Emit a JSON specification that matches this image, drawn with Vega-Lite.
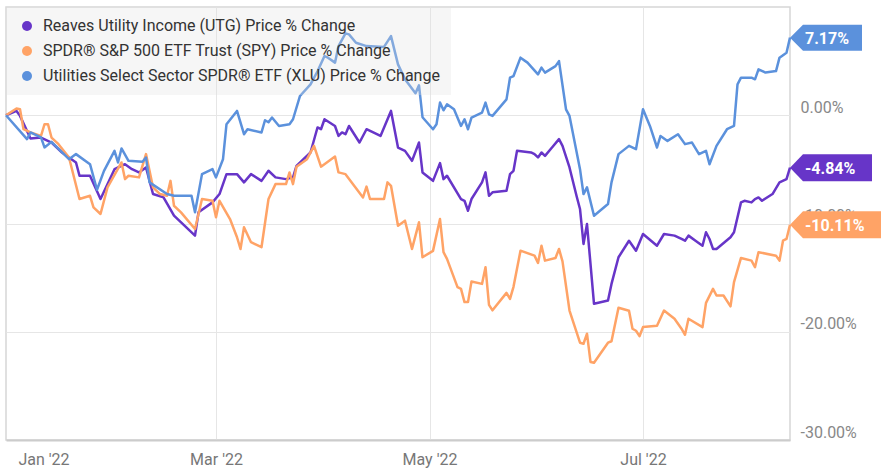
{
  "$schema": "https://vega.github.io/schema/vega-lite/v6.json",
  "width": 784,
  "height": 433,
  "autosize": {"type": "none"},
  "padding": {"left": 6, "top": 7, "right": 97, "bottom": 34},
  "background": "white",
  "config": {
    "font": "Roboto",
    "view": {"stroke": "#d6d6d6", "strokeWidth": 1.5}
  },
  "datasets": {
    "prices": [
      {"s": "UTG", "d": "2021-12-31", "v": 0},
      {"s": "UTG", "d": "2022-01-03", "v": 0.40},
      {"s": "UTG", "d": "2022-01-04", "v": -0.06},
      {"s": "UTG", "d": "2022-01-07", "v": -2.15},
      {"s": "UTG", "d": "2022-01-10", "v": -2.06},
      {"s": "UTG", "d": "2022-01-13", "v": -2.52},
      {"s": "UTG", "d": "2022-01-16", "v": -3.44},
      {"s": "UTG", "d": "2022-01-20", "v": -4.36},
      {"s": "UTG", "d": "2022-01-21", "v": -5.59},
      {"s": "UTG", "d": "2022-01-24", "v": -5.59},
      {"s": "UTG", "d": "2022-01-27", "v": -7.74},
      {"s": "UTG", "d": "2022-01-31", "v": -4.98},
      {"s": "UTG", "d": "2022-02-03", "v": -4.52},
      {"s": "UTG", "d": "2022-02-05", "v": -4.98},
      {"s": "UTG", "d": "2022-02-07", "v": -5.28},
      {"s": "UTG", "d": "2022-02-09", "v": -4.82},
      {"s": "UTG", "d": "2022-02-11", "v": -7.28},
      {"s": "UTG", "d": "2022-02-14", "v": -7.59},
      {"s": "UTG", "d": "2022-02-17", "v": -9.28},
      {"s": "UTG", "d": "2022-02-23", "v": -11.12},
      {"s": "UTG", "d": "2022-02-24", "v": -8.97},
      {"s": "UTG", "d": "2022-02-28", "v": -8.05},
      {"s": "UTG", "d": "2022-03-02", "v": -7.28},
      {"s": "UTG", "d": "2022-03-04", "v": -5.44},
      {"s": "UTG", "d": "2022-03-07", "v": -5.44},
      {"s": "UTG", "d": "2022-03-09", "v": -6.20},
      {"s": "UTG", "d": "2022-03-11", "v": -5.44},
      {"s": "UTG", "d": "2022-03-14", "v": -6.06},
      {"s": "UTG", "d": "2022-03-16", "v": -5.13},
      {"s": "UTG", "d": "2022-03-18", "v": -5.74},
      {"s": "UTG", "d": "2022-03-21", "v": -5.90},
      {"s": "UTG", "d": "2022-03-23", "v": -5.74},
      {"s": "UTG", "d": "2022-03-24", "v": -4.67},
      {"s": "UTG", "d": "2022-03-28", "v": -3.44},
      {"s": "UTG", "d": "2022-03-30", "v": -1.13},
      {"s": "UTG", "d": "2022-03-31", "v": -1.29},
      {"s": "UTG", "d": "2022-04-01", "v": -0.37},
      {"s": "UTG", "d": "2022-04-04", "v": -0.99},
      {"s": "UTG", "d": "2022-04-05", "v": -1.91},
      {"s": "UTG", "d": "2022-04-06", "v": -1.59},
      {"s": "UTG", "d": "2022-04-07", "v": -1.75},
      {"s": "UTG", "d": "2022-04-08", "v": -0.99},
      {"s": "UTG", "d": "2022-04-11", "v": -2.52},
      {"s": "UTG", "d": "2022-04-13", "v": -1.29},
      {"s": "UTG", "d": "2022-04-17", "v": -1.91},
      {"s": "UTG", "d": "2022-04-20", "v": 0.40},
      {"s": "UTG", "d": "2022-04-22", "v": -2.98},
      {"s": "UTG", "d": "2022-04-24", "v": -3.29},
      {"s": "UTG", "d": "2022-04-26", "v": -4.21},
      {"s": "UTG", "d": "2022-04-28", "v": -2.52},
      {"s": "UTG", "d": "2022-04-29", "v": -5.28},
      {"s": "UTG", "d": "2022-05-02", "v": -6.06},
      {"s": "UTG", "d": "2022-05-04", "v": -4.42},
      {"s": "UTG", "d": "2022-05-05", "v": -5.90},
      {"s": "UTG", "d": "2022-05-06", "v": -5.59},
      {"s": "UTG", "d": "2022-05-10", "v": -7.74},
      {"s": "UTG", "d": "2022-05-11", "v": -7.90},
      {"s": "UTG", "d": "2022-05-12", "v": -8.82},
      {"s": "UTG", "d": "2022-05-13", "v": -7.74},
      {"s": "UTG", "d": "2022-05-16", "v": -6.20},
      {"s": "UTG", "d": "2022-05-17", "v": -5.28},
      {"s": "UTG", "d": "2022-05-18", "v": -7.44},
      {"s": "UTG", "d": "2022-05-19", "v": -7.12},
      {"s": "UTG", "d": "2022-05-23", "v": -6.98},
      {"s": "UTG", "d": "2022-05-24", "v": -5.44},
      {"s": "UTG", "d": "2022-05-25", "v": -5.13},
      {"s": "UTG", "d": "2022-05-26", "v": -3.29},
      {"s": "UTG", "d": "2022-05-30", "v": -3.44},
      {"s": "UTG", "d": "2022-05-31", "v": -3.59},
      {"s": "UTG", "d": "2022-06-01", "v": -3.90},
      {"s": "UTG", "d": "2022-06-02", "v": -3.44},
      {"s": "UTG", "d": "2022-06-03", "v": -3.75},
      {"s": "UTG", "d": "2022-06-05", "v": -2.98},
      {"s": "UTG", "d": "2022-06-07", "v": -2.21},
      {"s": "UTG", "d": "2022-06-08", "v": -2.83},
      {"s": "UTG", "d": "2022-06-10", "v": -4.82},
      {"s": "UTG", "d": "2022-06-12", "v": -7.44},
      {"s": "UTG", "d": "2022-06-13", "v": -8.66},
      {"s": "UTG", "d": "2022-06-14", "v": -11.89},
      {"s": "UTG", "d": "2022-06-15", "v": -10.05},
      {"s": "UTG", "d": "2022-06-17", "v": -17.42},
      {"s": "UTG", "d": "2022-06-21", "v": -17.12},
      {"s": "UTG", "d": "2022-06-22", "v": -15.58},
      {"s": "UTG", "d": "2022-06-24", "v": -13.12},
      {"s": "UTG", "d": "2022-06-27", "v": -11.59},
      {"s": "UTG", "d": "2022-06-29", "v": -12.51},
      {"s": "UTG", "d": "2022-07-01", "v": -10.97},
      {"s": "UTG", "d": "2022-07-05", "v": -12.05},
      {"s": "UTG", "d": "2022-07-07", "v": -10.97},
      {"s": "UTG", "d": "2022-07-10", "v": -11.12},
      {"s": "UTG", "d": "2022-07-12", "v": -11.43},
      {"s": "UTG", "d": "2022-07-13", "v": -11.59},
      {"s": "UTG", "d": "2022-07-14", "v": -11.12},
      {"s": "UTG", "d": "2022-07-16", "v": -11.59},
      {"s": "UTG", "d": "2022-07-18", "v": -12.05},
      {"s": "UTG", "d": "2022-07-19", "v": -10.81},
      {"s": "UTG", "d": "2022-07-20", "v": -11.43},
      {"s": "UTG", "d": "2022-07-21", "v": -12.35},
      {"s": "UTG", "d": "2022-07-22", "v": -12.35},
      {"s": "UTG", "d": "2022-07-26", "v": -11.27},
      {"s": "UTG", "d": "2022-07-27", "v": -10.81},
      {"s": "UTG", "d": "2022-07-29", "v": -8.05},
      {"s": "UTG", "d": "2022-07-30", "v": -7.90},
      {"s": "UTG", "d": "2022-08-01", "v": -8.05},
      {"s": "UTG", "d": "2022-08-02", "v": -7.74},
      {"s": "UTG", "d": "2022-08-03", "v": -7.59},
      {"s": "UTG", "d": "2022-08-04", "v": -7.90},
      {"s": "UTG", "d": "2022-08-07", "v": -7.28},
      {"s": "UTG", "d": "2022-08-09", "v": -6.20},
      {"s": "UTG", "d": "2022-08-11", "v": -5.90},
      {"s": "UTG", "d": "2022-08-12", "v": -4.84},
      {"s": "SPY", "d": "2021-12-31", "v": 0},
      {"s": "SPY", "d": "2022-01-03", "v": 0.62},
      {"s": "SPY", "d": "2022-01-04", "v": 0.55},
      {"s": "SPY", "d": "2022-01-05", "v": -1.29},
      {"s": "SPY", "d": "2022-01-07", "v": -1.59},
      {"s": "SPY", "d": "2022-01-10", "v": -1.91},
      {"s": "SPY", "d": "2022-01-11", "v": -0.83},
      {"s": "SPY", "d": "2022-01-12", "v": -0.83},
      {"s": "SPY", "d": "2022-01-13", "v": -2.06},
      {"s": "SPY", "d": "2022-01-15", "v": -2.67},
      {"s": "SPY", "d": "2022-01-18", "v": -3.90},
      {"s": "SPY", "d": "2022-01-21", "v": -7.74},
      {"s": "SPY", "d": "2022-01-24", "v": -7.44},
      {"s": "SPY", "d": "2022-01-25", "v": -8.51},
      {"s": "SPY", "d": "2022-01-27", "v": -9.12},
      {"s": "SPY", "d": "2022-01-29", "v": -6.66},
      {"s": "SPY", "d": "2022-02-02", "v": -4.36},
      {"s": "SPY", "d": "2022-02-03", "v": -5.90},
      {"s": "SPY", "d": "2022-02-04", "v": -5.59},
      {"s": "SPY", "d": "2022-02-07", "v": -5.74},
      {"s": "SPY", "d": "2022-02-09", "v": -3.59},
      {"s": "SPY", "d": "2022-02-11", "v": -6.66},
      {"s": "SPY", "d": "2022-02-13", "v": -7.28},
      {"s": "SPY", "d": "2022-02-15", "v": -7.44},
      {"s": "SPY", "d": "2022-02-16", "v": -6.06},
      {"s": "SPY", "d": "2022-02-17", "v": -8.36},
      {"s": "SPY", "d": "2022-02-19", "v": -8.97},
      {"s": "SPY", "d": "2022-02-23", "v": -10.51},
      {"s": "SPY", "d": "2022-02-25", "v": -7.74},
      {"s": "SPY", "d": "2022-02-28", "v": -7.90},
      {"s": "SPY", "d": "2022-03-01", "v": -9.43},
      {"s": "SPY", "d": "2022-03-02", "v": -7.90},
      {"s": "SPY", "d": "2022-03-05", "v": -9.59},
      {"s": "SPY", "d": "2022-03-07", "v": -11.27},
      {"s": "SPY", "d": "2022-03-08", "v": -12.35},
      {"s": "SPY", "d": "2022-03-09", "v": -10.35},
      {"s": "SPY", "d": "2022-03-11", "v": -11.73},
      {"s": "SPY", "d": "2022-03-14", "v": -12.19},
      {"s": "SPY", "d": "2022-03-16", "v": -7.74},
      {"s": "SPY", "d": "2022-03-18", "v": -6.36},
      {"s": "SPY", "d": "2022-03-21", "v": -6.36},
      {"s": "SPY", "d": "2022-03-22", "v": -5.28},
      {"s": "SPY", "d": "2022-03-23", "v": -6.36},
      {"s": "SPY", "d": "2022-03-24", "v": -4.75},
      {"s": "SPY", "d": "2022-03-27", "v": -4.06},
      {"s": "SPY", "d": "2022-03-29", "v": -2.83},
      {"s": "SPY", "d": "2022-03-31", "v": -4.75},
      {"s": "SPY", "d": "2022-04-04", "v": -3.82},
      {"s": "SPY", "d": "2022-04-05", "v": -5.28},
      {"s": "SPY", "d": "2022-04-07", "v": -5.44},
      {"s": "SPY", "d": "2022-04-12", "v": -7.59},
      {"s": "SPY", "d": "2022-04-13", "v": -6.59},
      {"s": "SPY", "d": "2022-04-14", "v": -7.74},
      {"s": "SPY", "d": "2022-04-18", "v": -7.74},
      {"s": "SPY", "d": "2022-04-19", "v": -6.20},
      {"s": "SPY", "d": "2022-04-20", "v": -6.52},
      {"s": "SPY", "d": "2022-04-22", "v": -10.20},
      {"s": "SPY", "d": "2022-04-24", "v": -9.74},
      {"s": "SPY", "d": "2022-04-26", "v": -12.35},
      {"s": "SPY", "d": "2022-04-28", "v": -9.89},
      {"s": "SPY", "d": "2022-04-29", "v": -13.12},
      {"s": "SPY", "d": "2022-05-02", "v": -12.53},
      {"s": "SPY", "d": "2022-05-04", "v": -9.59},
      {"s": "SPY", "d": "2022-05-05", "v": -12.65},
      {"s": "SPY", "d": "2022-05-06", "v": -13.27},
      {"s": "SPY", "d": "2022-05-09", "v": -15.88},
      {"s": "SPY", "d": "2022-05-10", "v": -16.04},
      {"s": "SPY", "d": "2022-05-11", "v": -17.26},
      {"s": "SPY", "d": "2022-05-12", "v": -17.26},
      {"s": "SPY", "d": "2022-05-13", "v": -15.35},
      {"s": "SPY", "d": "2022-05-16", "v": -15.58},
      {"s": "SPY", "d": "2022-05-17", "v": -14.04},
      {"s": "SPY", "d": "2022-05-18", "v": -17.51},
      {"s": "SPY", "d": "2022-05-19", "v": -18.02},
      {"s": "SPY", "d": "2022-05-23", "v": -16.41},
      {"s": "SPY", "d": "2022-05-24", "v": -16.96},
      {"s": "SPY", "d": "2022-05-25", "v": -15.85},
      {"s": "SPY", "d": "2022-05-27", "v": -12.51},
      {"s": "SPY", "d": "2022-05-31", "v": -12.97},
      {"s": "SPY", "d": "2022-06-01", "v": -13.64},
      {"s": "SPY", "d": "2022-06-02", "v": -12.05},
      {"s": "SPY", "d": "2022-06-03", "v": -13.43},
      {"s": "SPY", "d": "2022-06-06", "v": -13.18},
      {"s": "SPY", "d": "2022-06-07", "v": -12.35},
      {"s": "SPY", "d": "2022-06-08", "v": -13.50},
      {"s": "SPY", "d": "2022-06-10", "v": -18.04},
      {"s": "SPY", "d": "2022-06-13", "v": -21.01},
      {"s": "SPY", "d": "2022-06-14", "v": -21.11},
      {"s": "SPY", "d": "2022-06-15", "v": -20.18},
      {"s": "SPY", "d": "2022-06-16", "v": -22.79},
      {"s": "SPY", "d": "2022-06-17", "v": -22.86},
      {"s": "SPY", "d": "2022-06-21", "v": -21.01},
      {"s": "SPY", "d": "2022-06-22", "v": -20.88},
      {"s": "SPY", "d": "2022-06-24", "v": -17.79},
      {"s": "SPY", "d": "2022-06-27", "v": -18.06},
      {"s": "SPY", "d": "2022-06-28", "v": -19.72},
      {"s": "SPY", "d": "2022-06-29", "v": -19.91},
      {"s": "SPY", "d": "2022-06-30", "v": -20.41},
      {"s": "SPY", "d": "2022-07-01", "v": -19.57},
      {"s": "SPY", "d": "2022-07-05", "v": -19.45},
      {"s": "SPY", "d": "2022-07-07", "v": -18.04},
      {"s": "SPY", "d": "2022-07-10", "v": -18.80},
      {"s": "SPY", "d": "2022-07-12", "v": -19.72},
      {"s": "SPY", "d": "2022-07-13", "v": -20.28},
      {"s": "SPY", "d": "2022-07-14", "v": -18.80},
      {"s": "SPY", "d": "2022-07-18", "v": -19.57},
      {"s": "SPY", "d": "2022-07-19", "v": -17.33},
      {"s": "SPY", "d": "2022-07-21", "v": -16.04},
      {"s": "SPY", "d": "2022-07-22", "v": -16.65},
      {"s": "SPY", "d": "2022-07-24", "v": -16.65},
      {"s": "SPY", "d": "2022-07-26", "v": -17.65},
      {"s": "SPY", "d": "2022-07-27", "v": -15.42},
      {"s": "SPY", "d": "2022-07-29", "v": -13.18},
      {"s": "SPY", "d": "2022-08-01", "v": -13.43},
      {"s": "SPY", "d": "2022-08-02", "v": -14.04},
      {"s": "SPY", "d": "2022-08-03", "v": -12.65},
      {"s": "SPY", "d": "2022-08-08", "v": -12.97},
      {"s": "SPY", "d": "2022-08-09", "v": -13.43},
      {"s": "SPY", "d": "2022-08-10", "v": -11.59},
      {"s": "SPY", "d": "2022-08-11", "v": -11.43},
      {"s": "SPY", "d": "2022-08-12", "v": -10.11},
      {"s": "XLU", "d": "2021-12-31", "v": 0},
      {"s": "XLU", "d": "2022-01-06", "v": -2.21},
      {"s": "XLU", "d": "2022-01-07", "v": -1.59},
      {"s": "XLU", "d": "2022-01-10", "v": -2.05},
      {"s": "XLU", "d": "2022-01-11", "v": -2.97},
      {"s": "XLU", "d": "2022-01-13", "v": -2.46},
      {"s": "XLU", "d": "2022-01-18", "v": -4.06},
      {"s": "XLU", "d": "2022-01-20", "v": -3.59},
      {"s": "XLU", "d": "2022-01-24", "v": -4.52},
      {"s": "XLU", "d": "2022-01-26", "v": -6.88},
      {"s": "XLU", "d": "2022-01-28", "v": -5.14},
      {"s": "XLU", "d": "2022-01-31", "v": -3.29},
      {"s": "XLU", "d": "2022-02-01", "v": -4.36},
      {"s": "XLU", "d": "2022-02-02", "v": -3.07},
      {"s": "XLU", "d": "2022-02-04", "v": -4.21},
      {"s": "XLU", "d": "2022-02-08", "v": -4.30},
      {"s": "XLU", "d": "2022-02-09", "v": -3.90},
      {"s": "XLU", "d": "2022-02-10", "v": -6.20},
      {"s": "XLU", "d": "2022-02-15", "v": -7.28},
      {"s": "XLU", "d": "2022-02-17", "v": -7.44},
      {"s": "XLU", "d": "2022-02-22", "v": -7.44},
      {"s": "XLU", "d": "2022-02-23", "v": -8.97},
      {"s": "XLU", "d": "2022-02-25", "v": -5.44},
      {"s": "XLU", "d": "2022-02-28", "v": -4.98},
      {"s": "XLU", "d": "2022-03-01", "v": -5.74},
      {"s": "XLU", "d": "2022-03-03", "v": -4.06},
      {"s": "XLU", "d": "2022-03-04", "v": -0.83},
      {"s": "XLU", "d": "2022-03-07", "v": 0.40},
      {"s": "XLU", "d": "2022-03-09", "v": -1.75},
      {"s": "XLU", "d": "2022-03-10", "v": -1.29},
      {"s": "XLU", "d": "2022-03-14", "v": -1.59},
      {"s": "XLU", "d": "2022-03-15", "v": -0.46},
      {"s": "XLU", "d": "2022-03-16", "v": -0.65},
      {"s": "XLU", "d": "2022-03-17", "v": -0.21},
      {"s": "XLU", "d": "2022-03-19", "v": -0.99},
      {"s": "XLU", "d": "2022-03-22", "v": -0.83},
      {"s": "XLU", "d": "2022-03-23", "v": -0.37},
      {"s": "XLU", "d": "2022-03-25", "v": 1.78},
      {"s": "XLU", "d": "2022-03-28", "v": 2.86},
      {"s": "XLU", "d": "2022-03-30", "v": 4.06},
      {"s": "XLU", "d": "2022-04-01", "v": 5.47},
      {"s": "XLU", "d": "2022-04-02", "v": 5.32},
      {"s": "XLU", "d": "2022-04-04", "v": 4.86},
      {"s": "XLU", "d": "2022-04-05", "v": 6.39},
      {"s": "XLU", "d": "2022-04-07", "v": 7.56},
      {"s": "XLU", "d": "2022-04-08", "v": 7.47},
      {"s": "XLU", "d": "2022-04-10", "v": 6.70},
      {"s": "XLU", "d": "2022-04-13", "v": 6.39},
      {"s": "XLU", "d": "2022-04-18", "v": 6.31},
      {"s": "XLU", "d": "2022-04-20", "v": 7.31},
      {"s": "XLU", "d": "2022-04-22", "v": 4.70},
      {"s": "XLU", "d": "2022-04-24", "v": 3.32},
      {"s": "XLU", "d": "2022-04-27", "v": 2.03},
      {"s": "XLU", "d": "2022-04-28", "v": 2.76},
      {"s": "XLU", "d": "2022-04-29", "v": -0.18},
      {"s": "XLU", "d": "2022-05-02", "v": -1.29},
      {"s": "XLU", "d": "2022-05-03", "v": -0.83},
      {"s": "XLU", "d": "2022-05-04", "v": 1.17},
      {"s": "XLU", "d": "2022-05-05", "v": 0.46},
      {"s": "XLU", "d": "2022-05-06", "v": 1.01},
      {"s": "XLU", "d": "2022-05-08", "v": 0.55},
      {"s": "XLU", "d": "2022-05-10", "v": -0.99},
      {"s": "XLU", "d": "2022-05-11", "v": -0.37},
      {"s": "XLU", "d": "2022-05-12", "v": -1.29},
      {"s": "XLU", "d": "2022-05-13", "v": -0.21},
      {"s": "XLU", "d": "2022-05-16", "v": 0.25},
      {"s": "XLU", "d": "2022-05-17", "v": 1.17},
      {"s": "XLU", "d": "2022-05-18", "v": 0.09},
      {"s": "XLU", "d": "2022-05-19", "v": -0.06},
      {"s": "XLU", "d": "2022-05-23", "v": 1.47},
      {"s": "XLU", "d": "2022-05-24", "v": 3.47},
      {"s": "XLU", "d": "2022-05-25", "v": 3.62},
      {"s": "XLU", "d": "2022-05-27", "v": 5.32},
      {"s": "XLU", "d": "2022-05-29", "v": 4.86},
      {"s": "XLU", "d": "2022-06-01", "v": 3.78},
      {"s": "XLU", "d": "2022-06-02", "v": 4.40},
      {"s": "XLU", "d": "2022-06-03", "v": 3.94},
      {"s": "XLU", "d": "2022-06-06", "v": 4.54},
      {"s": "XLU", "d": "2022-06-07", "v": 5.00},
      {"s": "XLU", "d": "2022-06-09", "v": 0.55},
      {"s": "XLU", "d": "2022-06-10", "v": -0.06},
      {"s": "XLU", "d": "2022-06-13", "v": -4.98},
      {"s": "XLU", "d": "2022-06-14", "v": -7.28},
      {"s": "XLU", "d": "2022-06-15", "v": -6.66},
      {"s": "XLU", "d": "2022-06-17", "v": -9.28},
      {"s": "XLU", "d": "2022-06-21", "v": -8.20},
      {"s": "XLU", "d": "2022-06-22", "v": -6.20},
      {"s": "XLU", "d": "2022-06-24", "v": -3.59},
      {"s": "XLU", "d": "2022-06-27", "v": -2.83},
      {"s": "XLU", "d": "2022-06-29", "v": -3.13},
      {"s": "XLU", "d": "2022-07-01", "v": 0.55},
      {"s": "XLU", "d": "2022-07-03", "v": -1.01},
      {"s": "XLU", "d": "2022-07-05", "v": -2.98},
      {"s": "XLU", "d": "2022-07-06", "v": -1.91},
      {"s": "XLU", "d": "2022-07-08", "v": -2.37},
      {"s": "XLU", "d": "2022-07-11", "v": -1.75},
      {"s": "XLU", "d": "2022-07-13", "v": -2.67},
      {"s": "XLU", "d": "2022-07-15", "v": -2.52},
      {"s": "XLU", "d": "2022-07-17", "v": -3.59},
      {"s": "XLU", "d": "2022-07-19", "v": -3.29},
      {"s": "XLU", "d": "2022-07-20", "v": -4.52},
      {"s": "XLU", "d": "2022-07-22", "v": -2.83},
      {"s": "XLU", "d": "2022-07-25", "v": -1.29},
      {"s": "XLU", "d": "2022-07-27", "v": -0.99},
      {"s": "XLU", "d": "2022-07-28", "v": 2.86},
      {"s": "XLU", "d": "2022-07-29", "v": 3.47},
      {"s": "XLU", "d": "2022-08-01", "v": 3.47},
      {"s": "XLU", "d": "2022-08-02", "v": 3.32},
      {"s": "XLU", "d": "2022-08-03", "v": 4.24},
      {"s": "XLU", "d": "2022-08-05", "v": 3.94},
      {"s": "XLU", "d": "2022-08-08", "v": 4.08},
      {"s": "XLU", "d": "2022-08-09", "v": 5.32},
      {"s": "XLU", "d": "2022-08-11", "v": 5.78},
      {"s": "XLU", "d": "2022-08-12", "v": 7.17}
    ]
  },
  "data": {"name": "prices"},
  "encoding": {
    "x": {
      "field": "d",
      "type": "temporal",
      "title": null,
      "scale": {
        "type": "utc",
        "domain": [
          {"year": 2021, "month": 12, "date": 31, "utc": true},
          {"year": 2022, "month": 8, "date": 12, "utc": true}
        ]
      },
      "axis": {
        "values": [
          {"year": 2022, "month": 1, "date": 1, "utc": true},
          {"year": 2022, "month": 3, "date": 1, "utc": true},
          {"year": 2022, "month": 5, "date": 1, "utc": true},
          {"year": 2022, "month": 7, "date": 1, "utc": true}
        ],
        "format": "%b '%y",
        "labelFontSize": 16,
        "labelColor": "#777777",
        "labelPadding": 11,
        "labelFlush": false,
        "labelOffset": {"condition": {"test": "utcmonth(datum.value) == 0", "value": 34}, "value": 0},
        "ticks": false,
        "domainColor": "#cccccc",
        "domainWidth": 2,
        "gridColor": "#e6e6e6",
        "gridOpacity": {"condition": {"test": "utcmonth(datum.value) == 0", "value": 0}, "value": 1}
      }
    },
    "y": {
      "field": "v",
      "type": "quantitative",
      "title": null,
      "scale": {"domain": [-30, 10], "nice": false, "zero": false},
      "axis": {
        "orient": "right",
        "values": [0, -10, -20, -30],
        "labelExpr": "(datum.value < 0 ? '-' : '') + format(abs(datum.value), '.2f') + '%'",
        "domain": false,
        "ticks": false,
        "labelPadding": 10,
        "labelAlign": "left",
        "labelBaseline": "alphabetic",
        "labelOffset": -3,
        "labelFontSize": 16,
        "labelColor": "#888888",
        "gridColor": "#e6e6e6"
      }
    },
    "color": {
      "field": "s",
      "type": "nominal",
      "scale": {"domain": ["UTG", "SPY", "XLU"], "range": ["#6735c8", "#ffa366", "#5b91dc"]},
      "legend": {
        "title": null,
        "orient": "top-left",
        "offset": 0,
        "padding": 11,
        "fillColor": "rgba(225,225,225,0.3)",
        "symbolType": "circle",
        "symbolSize": 100,
        "symbolOffset": 2,
        "symbolStrokeWidth": 0,
        "labelOffset": 8,
        "labelFontSize": 16,
        "labelColor": "#333333",
        "labelLimit": 600,
        "rowPadding": 9,
        "labelExpr": "datum.label == 'UTG' ? 'Reaves Utility Income (UTG) Price % Change' : datum.label == 'SPY' ? 'SPDR® S&P 500 ETF Trust (SPY) Price % Change' : 'Utilities Select Sector SPDR® ETF (XLU) Price % Change'",
        "encode": {
          "symbols": {
            "update": {
              "fill": {"scale": "color", "field": "value"},
              "strokeWidth": {"value": 0}
            }
          }
        }
      }
    }
  },
  "layer": [
    {
      "mark": {"type": "line", "strokeWidth": 2.5, "strokeJoin": "round"},
      "encoding": {}
    },
    {
      "transform": [
        {"filter": {"field": "d", "equal": {"year": 2022, "month": 8, "date": 12, "utc": true}}}
      ],
      "layer": [
        {
          "transform": [{"filter": "datum.s == 'UTG'"}],
          "mark": {"type": "point", "shape": "M0,0L1.3,-1.35L8.2,-1.35L8.2,1.35L1.3,1.35Z", "filled": true, "opacity": 1, "size": 400, "strokeWidth": 0}
        },
        {
          "transform": [{"filter": "datum.s == 'SPY'"}],
          "mark": {"type": "point", "shape": "M0,0L1.3,-1.35L9.1,-1.35L9.1,1.35L1.3,1.35Z", "filled": true, "opacity": 1, "size": 400, "strokeWidth": 0}
        },
        {
          "transform": [{"filter": "datum.s == 'XLU'"}],
          "mark": {"type": "point", "shape": "M0,0L1.3,-1.3L7.2,-1.3L7.2,1.3L1.3,1.3Z", "filled": true, "opacity": 1, "size": 400, "strokeWidth": 0}
        },
        {
          "transform": [
            {"calculate": "(datum.v < 0 ? '-' : '') + format(abs(datum.v), '.2f') + '%'", "as": "label"}
          ],
          "mark": {"type": "text", "align": "left", "baseline": "middle", "dx": 15, "dy": 1, "fontSize": 16, "fontWeight": "bold"},
          "encoding": {
            "text": {"field": "label", "type": "nominal"},
            "color": {"value": "white"}
          }
        }
      ]
    }
  ]
}
